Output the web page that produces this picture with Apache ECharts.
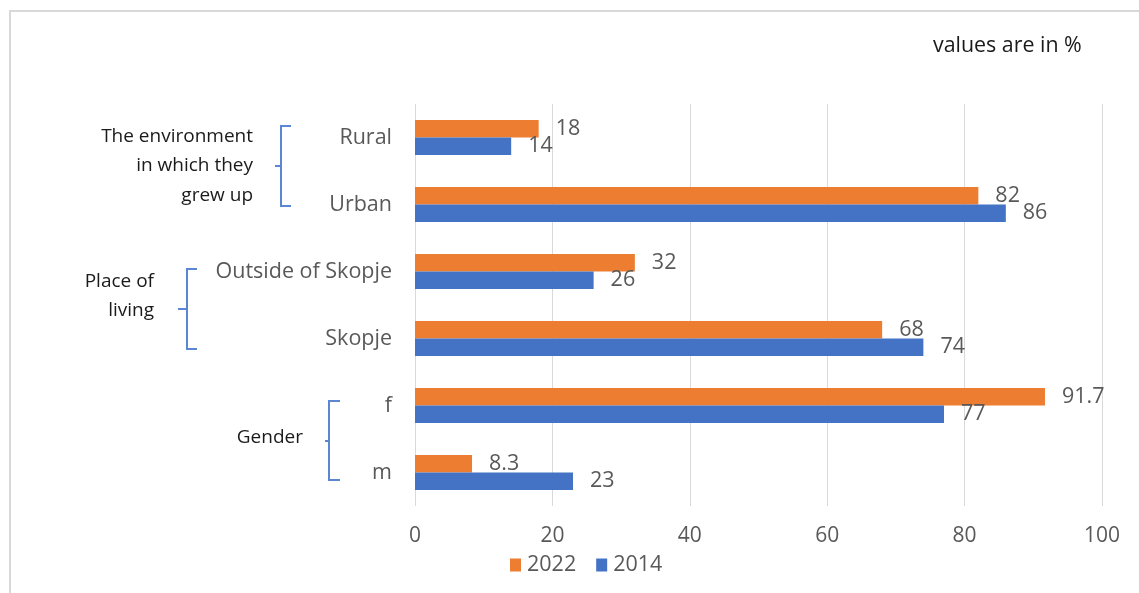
<!DOCTYPE html>
<html>
<head>
<meta charset="utf-8">
<script src="https://cdn.jsdelivr.net/npm/echarts@6/dist/echarts.min.js"></script>
<style>
  html, body { margin: 0; padding: 0; background: #fff; }
  #chart { width: 1139px; height: 593px; }
</style>
</head>
<body>
<div id="chart"></div>
<script>
// Categories listed top to bottom
const categories = ['Rural', 'Urban', 'Outside of Skopje', 'Skopje', 'f', 'm'];
const values2022 = [18, 82, 32, 68, 91.7, 8.3];
const values2014 = [14, 86, 26, 74, 77, 23];
const xTicks = [0, 20, 40, 60, 80, 100];

const FONT = '"Open Sans", "Noto Sans", sans-serif';
const GREY = '#595959';
const ORANGE = '#ED7D31';
const BLUE = '#4472C4';
const BRACKET = '#5B86D2';

const chart = echarts.init(document.getElementById('chart'), null, { renderer: 'canvas' });

const labelStyle = {
  show: true,
  position: 'right',
  distance: 17,
  color: GREY,
  fontSize: 21.5,
  fontFamily: FONT
};

// Bracket: vertical stroke with short hooks at both ends
function bracket(x, top, bottom, hook) {
  return {
    type: 'polyline',
    shape: { points: [[x + hook, top], [x, top], [x, bottom], [x + hook, bottom]] },
    style: { stroke: BRACKET, lineWidth: 2, fill: null },
    silent: true
  };
}
// Small tick pointing from the bracket towards its group label
function bracketTick(x, mid, tick) {
  return {
    type: 'line',
    shape: { x1: x - tick, y1: mid, x2: x, y2: mid },
    style: { stroke: BRACKET, lineWidth: 2 },
    silent: true
  };
}
function groupText(right, y, text) {
  return {
    type: 'text',
    x: right, y: y,
    style: {
      text: text, fill: '#1a1a1a', font: '19px ' + FONT,
      align: 'right', verticalAlign: 'middle', lineHeight: 29.5
    },
    silent: true
  };
}

chart.setOption({
  animation: false,
  backgroundColor: '#fff',
  textStyle: { fontFamily: FONT },
  grid: { left: 415, top: 104, width: 687, height: 402, containLabel: false },
  legend: {
    data: ['2022', '2014'],
    left: 505,
    top: 549,
    itemWidth: 11,
    itemHeight: 13,
    itemGap: 20,
    icon: 'rect',
    textStyle: { color: GREY, fontSize: 21.5, fontFamily: FONT, padding: [0, 0, 0, 1] }
  },
  xAxis: {
    type: 'value',
    min: xTicks[0],
    max: xTicks[xTicks.length - 1],
    interval: xTicks[1] - xTicks[0],
    axisLine: { show: false },
    axisTick: { show: false },
    axisLabel: { color: GREY, fontSize: 21, fontFamily: FONT, margin: 20 },
    splitLine: { show: true, lineStyle: { color: '#d9d9d9', width: 1 } }
  },
  yAxis: {
    type: 'category',
    inverse: true,
    data: categories,
    axisLine: { show: false },
    axisTick: { show: false },
    axisLabel: { color: GREY, fontSize: 21.5, fontFamily: FONT, margin: 23 }
  },
  series: [
    {
      name: '2022', type: 'bar', data: values2022,
      barWidth: 17.5, barGap: '0%',
      itemStyle: { color: ORANGE },
      label: labelStyle
    },
    {
      name: '2014', type: 'bar', data: values2014,
      barWidth: 17.5, barGap: '0%',
      itemStyle: { color: BLUE },
      label: labelStyle
    }
  ],
  graphic: [
    // outer frame
    {
      type: 'rect',
      shape: { x: 10, y: 11, width: 1160, height: 620 },
      style: { fill: null, stroke: '#d9d9d9', lineWidth: 2 },
      silent: true
    },
    {
      type: 'text', x: 933, y: 46,
      style: { text: 'values are in %', fill: '#1a1a1a', font: '21.4px ' + FONT, align: 'left', verticalAlign: 'middle' },
      silent: true
    },
    groupText(253, 166, 'The environment\nin which they\ngrew up'),
    bracket(281, 126, 206, 10), bracketTick(281, 166, 6),
    groupText(154, 296, 'Place of\nliving'),
    bracket(187, 269, 349, 10), bracketTick(187, 309, 9),
    groupText(303, 438, 'Gender'),
    bracket(329, 401, 480, 11), bracketTick(329, 441, 4)
  ]
});
</script>
</body>
</html>
